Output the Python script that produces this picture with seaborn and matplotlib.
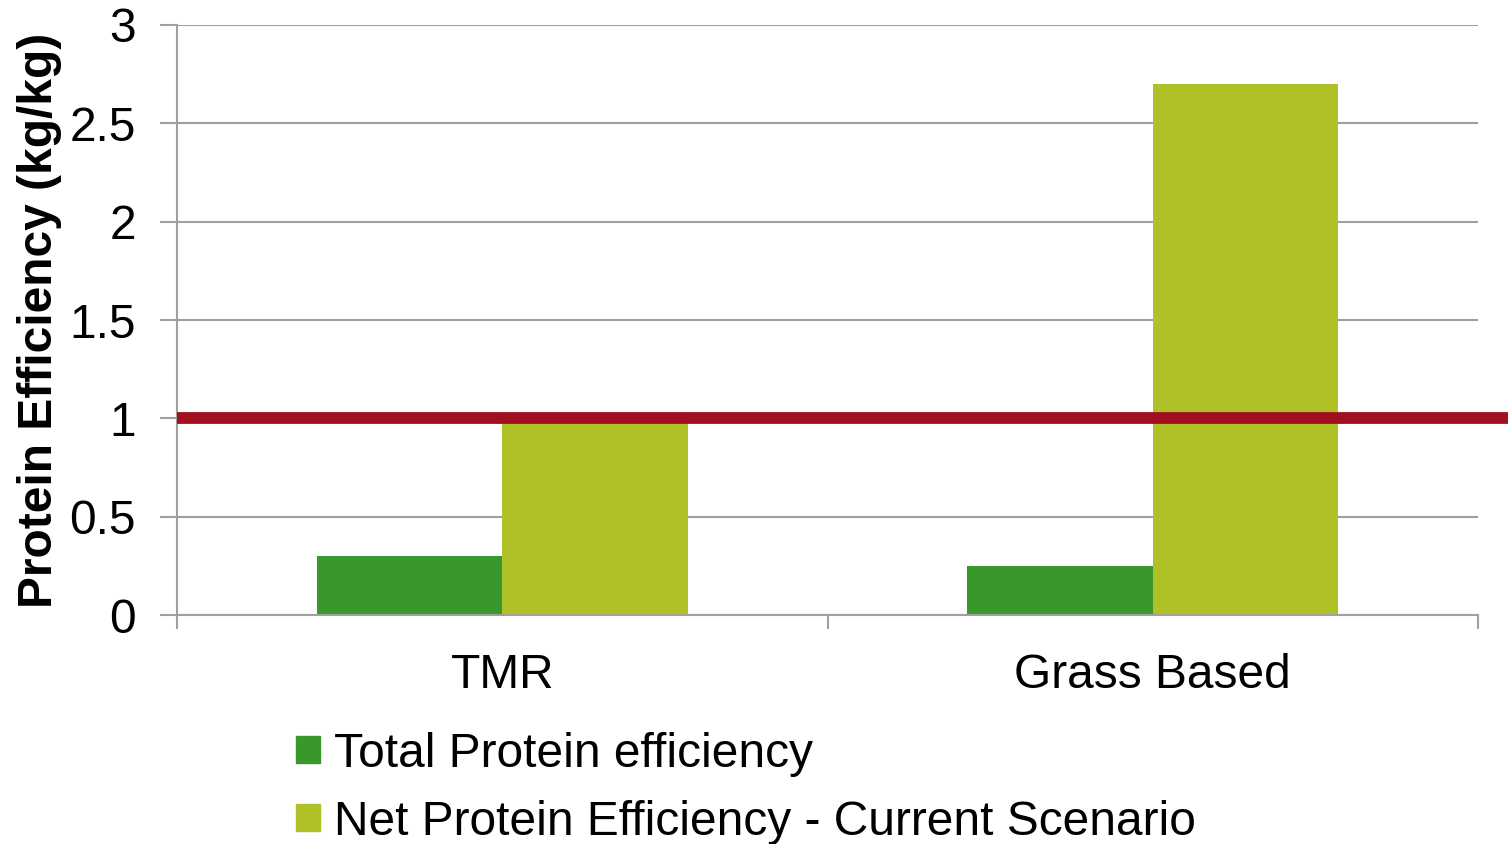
import matplotlib
matplotlib.use("Agg")
import matplotlib.pyplot as plt
import matplotlib.patheffects as pe
import seaborn as sns
import pandas as pd

categories = ["TMR", "Grass Based"]
series_names = ["Total Protein efficiency", "Net Protein Efficiency - Current Scenario"]
total_values = [0.30, 0.25]
net_values = [0.99, 2.70]
reference_level = 1.0
y_ticks = [0, 0.5, 1, 1.5, 2, 2.5, 3]
y_tick_labels = ["0", "0.5", "1", "1.5", "2", "2.5", "3"]

df = pd.DataFrame({
    "category": categories * 2,
    "series": [series_names[0]] * 2 + [series_names[1]] * 2,
    "value": total_values + net_values,
})

sns.set_theme(style="white")
plt.rcParams["font.family"] = ["Liberation Sans", "DejaVu Sans"]
plt.rcParams["text.color"] = "black"
plt.rcParams["axes.labelcolor"] = "black"

FS = 34.5
fig = plt.figure(figsize=(15.08, 8.44), dpi=100)
ax = fig.add_axes([0.1174, 0.2713, 0.8627, 0.6991])

palette = {series_names[0]: "#38982B", series_names[1]: "#AFC126"}
sns.barplot(data=df, x="category", y="value", hue="series", order=categories,
            hue_order=series_names, palette=palette, width=0.571, saturation=1,
            ax=ax, legend=False, linewidth=0)

ax.set_ylim(0, 3)
ax.set_xlim(-0.5, 1.5)
ax.set_yticks(y_ticks)
ax.set_yticklabels(y_tick_labels)
ax.yaxis.grid(True, color="#A0A0A0", linewidth=1.5)
ax.set_axisbelow(True)
for s in ["top", "right"]:
    ax.spines[s].set_visible(False)
for s in ["left", "bottom"]:
    ax.spines[s].set_color("#A0A0A0")
    ax.spines[s].set_linewidth(1.5)

ax.tick_params(axis="y", which="major", length=12, width=1.5, color="#A0A0A0",
               labelsize=FS, pad=17.5, left=True, direction="out", labelcolor="black")
ax.tick_params(axis="x", which="major", length=0, labelsize=FS, pad=27, labelcolor="black")
ax.set_xticks([-0.5, 0.5, 1.5], minor=True)
ax.tick_params(axis="x", which="minor", length=10, width=1.5, color="#A0A0A0",
               bottom=True, direction="out")
ax.set_xlabel("")
ax.set_ylabel("Protein Efficiency (kg/kg)", fontsize=FS, fontweight="bold",
              labelpad=5.5, color="black")

ax.axhline(reference_level, xmin=0, xmax=1.025, color="#A0101F", linewidth=8.5,
           clip_on=False, zorder=5, solid_capstyle="butt",
           path_effects=[pe.SimplePatchShadow(offset=(0, -3), alpha=0.25), pe.Normal()])

handles = [plt.Rectangle((0, 0), 1, 1, color=palette[n]) for n in series_names]
leg = fig.legend(handles, series_names, loc="upper left", bbox_to_anchor=(0.196, 0.133),
                 frameon=False, fontsize=FS, handlelength=0.5, handleheight=0.5,
                 handletextpad=0.3, labelspacing=0.48, borderaxespad=0, borderpad=0)
for t in leg.get_texts():
    t.set_color("black")

fig.savefig("out.png", dpi=100)
